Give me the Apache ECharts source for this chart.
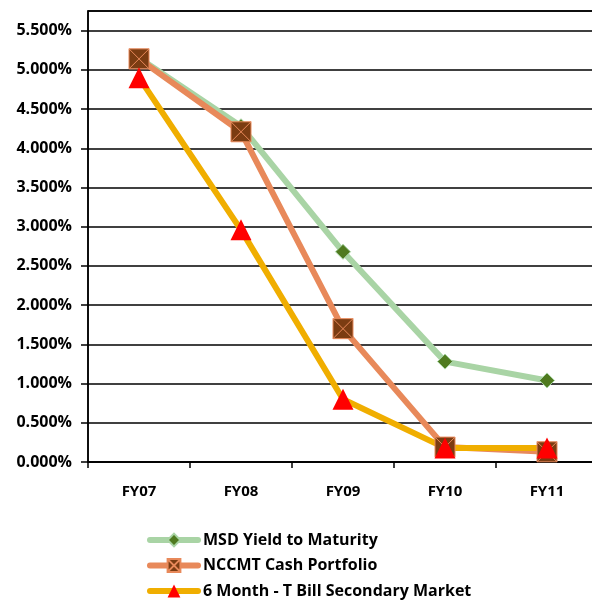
<!DOCTYPE html>
<html>
<head>
<meta charset="utf-8">
<script src="https://cdn.jsdelivr.net/npm/echarts@6/dist/echarts.min.js"></script>
<style>
  html, body { margin: 0; padding: 0; background: #fff; }
  #chart { width: 592px; height: 602px; }
</style>
</head>
<body>
<div id="chart"></div>
<script>
var years = ['FY07', 'FY08', 'FY09', 'FY10', 'FY11'];
var msdYield = [5.15, 4.28, 2.68, 1.28, 1.04];
var nccmtCash = [5.14, 4.21, 1.70, 0.19, 0.13];
var tBill6m = [4.90, 2.96, 0.80, 0.18, 0.18];

var font = '"Open Sans", Lato, sans-serif';

// square with an X through it
var boxX = 'path://M0,0 L10,0 L10,10 L0,10 Z M0,0 L10,10 M10,0 L0,10';

var chart = echarts.init(document.getElementById('chart'));

var option = {
    animation: false,
    backgroundColor: '#fff',
    grid: {
        left: 88,
        right: -6,
        top: 11,
        bottom: 140,
        containLabel: false,
        outerBoundsMode: 'none',
        show: true,
        borderColor: '#000',
        borderWidth: 1.5
    },
    legend: {
        orient: 'vertical',
        left: 147,
        top: 532,
        height: 120,
        padding: 0,
        itemWidth: 48,
        itemHeight: 16,
        itemGap: 9.5,
        lineStyle: {width: 6, cap: 'round'},
        textStyle: {fontFamily: font, fontWeight: 'bold', fontSize: 16, lineHeight: 16, color: '#000'},
        data: ['MSD Yield to Maturity', 'NCCMT Cash Portfolio', '6 Month - T Bill Secondary Market']
    },
    xAxis: {
        type: 'category',
        data: years,
        boundaryGap: true,
        axisLine: {lineStyle: {color: '#000', width: 1.5}},
        axisTick: {show: true, length: 6, lineStyle: {color: '#000', width: 1.5}},
        axisLabel: {fontFamily: font, fontWeight: 'bold', fontSize: 15, color: '#000', margin: 22}
    },
    yAxis: {
        type: 'value',
        min: 0,
        max: 5.75,
        interval: 0.5,
        axisLine: {show: true, lineStyle: {color: '#000', width: 1.5}},
        axisTick: {show: true, length: 7, lineStyle: {color: '#000', width: 1.5}},
        splitLine: {lineStyle: {color: '#000', width: 1.5}},
        axisLabel: {
            showMaxLabel: false,
            fontFamily: font, fontWeight: 'bold', fontSize: 16, color: '#000', margin: 16,
            formatter: function (v) { return v.toFixed(3) + '%'; }
        }
    },
    series: [
        {
            name: 'MSD Yield to Maturity',
            type: 'line',
            data: msdYield,
            symbol: 'diamond',
            symbolSize: 15,
            lineStyle: {color: '#A9D4A5', width: 6},
            itemStyle: {color: '#4F7A1F', borderColor: '#A9D4A5', borderWidth: 1}
        },
        {
            name: 'NCCMT Cash Portfolio',
            type: 'line',
            data: nccmtCash,
            symbol: boxX,
            symbolSize: 20,
            lineStyle: {color: '#E8895A', width: 6},
            itemStyle: {color: '#7B3C12', borderColor: '#E8895A', borderWidth: 1}
        },
        {
            name: '6 Month - T Bill Secondary Market',
            type: 'line',
            data: tBill6m,
            symbol: 'triangle',
            symbolSize: [21, 21],
            lineStyle: {color: '#F0AE00', width: 6},
            itemStyle: {color: '#FF0000', borderWidth: 0}
        }
    ]
};

chart.setOption(option);
</script>
</body>
</html>
